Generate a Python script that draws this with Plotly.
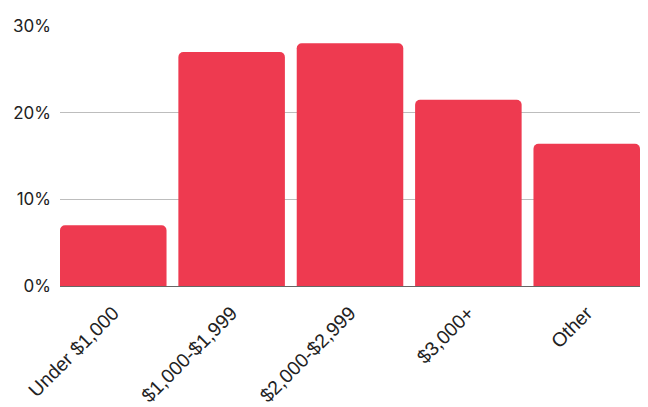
import plotly.graph_objects as go

categories = ["Under $1,000", "$1,000-$1,999", "$2,000-$2,999", "$3,000+", "Other"]
shares = [7.0, 27.0, 28.0, 21.5, 16.4]
y_ticks = [0, 10, 20, 30]
y_tick_labels = ["0%", "10%", "20%", "30%"]

fig = go.Figure(
    go.Bar(
        x=categories,
        y=shares,
        marker=dict(color="#EE3A50", line=dict(width=0)),
        hoverinfo="x+y",
    )
)

fig.update_layout(
    width=648,
    height=407,
    margin=dict(l=60, r=8, t=26, b=121),
    paper_bgcolor="white",
    plot_bgcolor="white",
    bargap=0.1,
    barcornerradius=5,
    showlegend=False,
)

fig.update_xaxes(
    range=[-0.45, 4.45],
    tickangle=-45,
    tickfont=dict(family="Liberation Sans, Arial, sans-serif", size=19.5, color="#222"),
    showgrid=False,
    showline=False,
    ticks="",
    ticklabelstandoff=11,
    automargin=False,
)

fig.update_yaxes(
    range=[0, 30],
    tickvals=y_ticks,
    ticktext=y_tick_labels,
    tickfont=dict(family="Inter, sans-serif", size=17, color="#222"),
    showgrid=True,
    gridcolor="#BDBDBD",
    gridwidth=1,
    zeroline=True,
    zerolinecolor="#666666",
    zerolinewidth=1,
    showline=False,
    ticks="",
    ticklabelstandoff=8,
    automargin=False,
)

fig.write_html("out.html")
